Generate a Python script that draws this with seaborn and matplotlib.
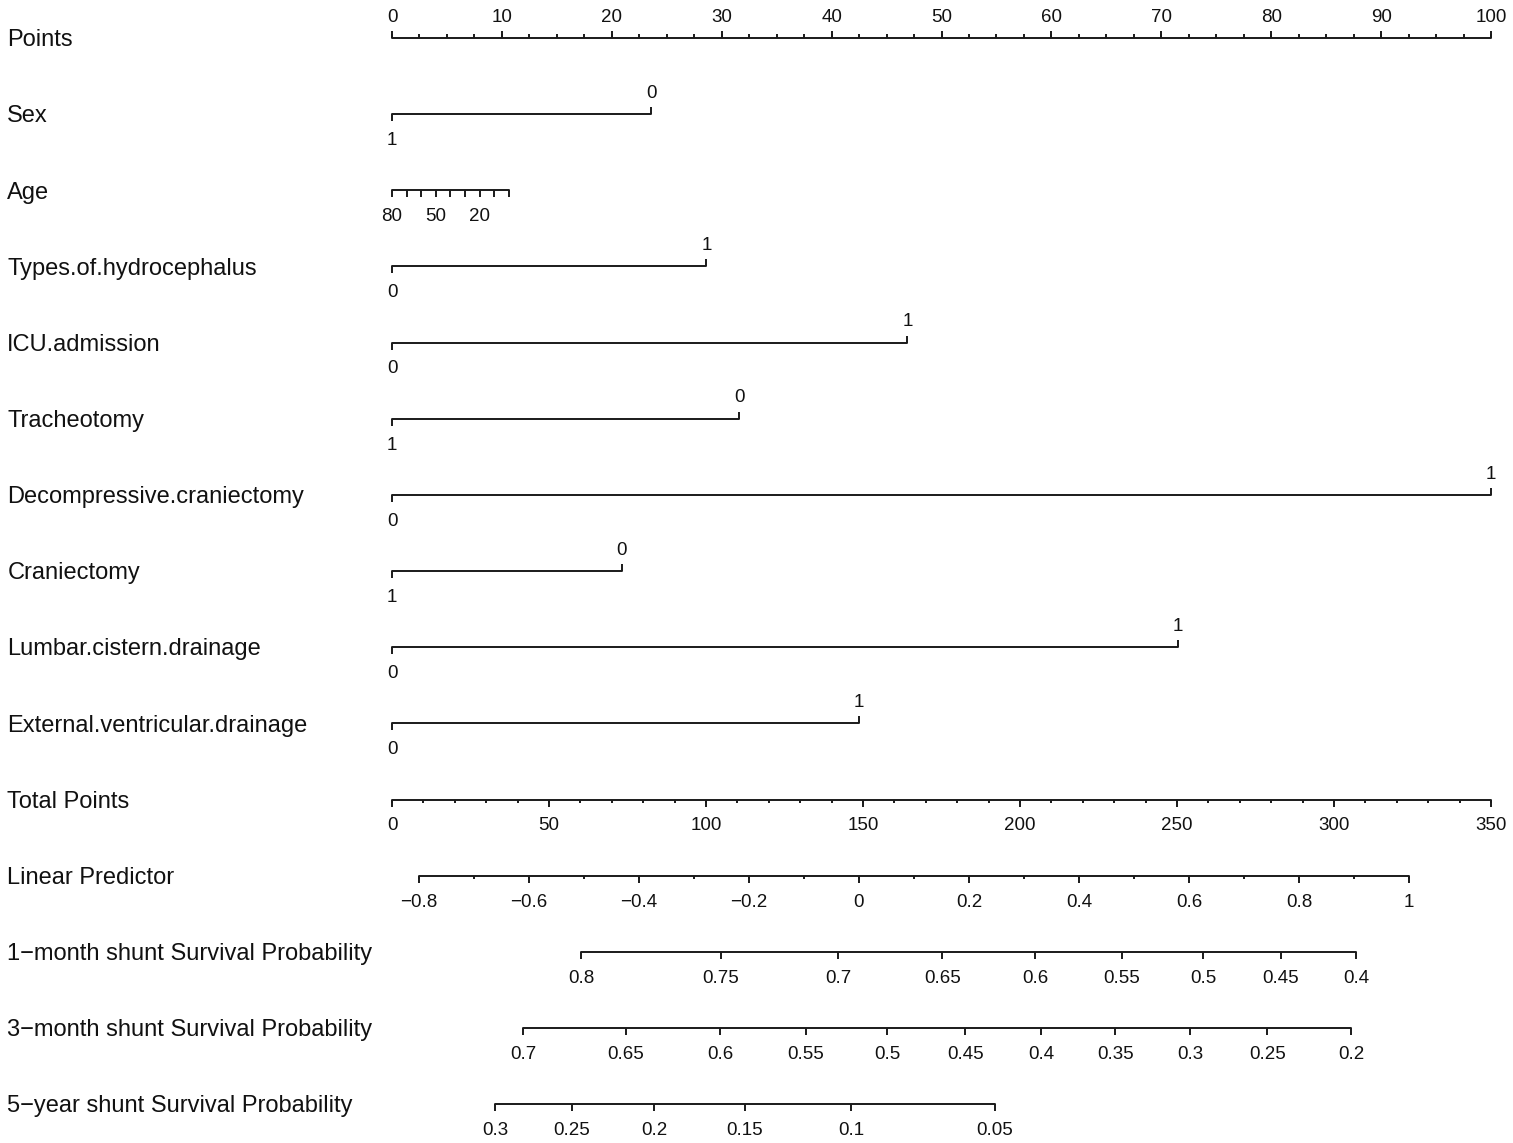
import numpy as np
import pandas as pd
import seaborn as sns
import matplotlib.pyplot as plt

# nomogram rows, top to bottom
row_names = ['Points', 'Sex', 'Age', 'Types.of.hydrocephalus', 'ICU.admission',
             'Tracheotomy', 'Decompressive.craniectomy', 'Craniectomy',
             'Lumbar.cistern.drainage', 'External.ventricular.drainage',
             'Total Points', 'Linear Predictor',
             '1\u2212month shunt Survival Probability',
             '3\u2212month shunt Survival Probability',
             '5\u2212year shunt Survival Probability']

# binary predictors -> points given to level 0 and level 1
binary_vars = ['Sex', 'Types.of.hydrocephalus', 'ICU.admission', 'Tracheotomy',
               'Decompressive.craniectomy', 'Craniectomy',
               'Lumbar.cistern.drainage', 'External.ventricular.drainage']
pts_level0 = [23.6, 0, 0, 31.6, 0, 20.9, 0, 0]
pts_level1 = [0, 28.6, 46.9, 0, 100, 0, 71.5, 42.5]

# age -> points
age_values = [80, 70, 60, 50, 40, 30, 20, 10, 0]
age_points = [0.0, 1.34, 2.67, 3.97, 5.30, 6.64, 7.98, 9.31, 10.65]
age_shown = [80, 50, 20]

# points / total points scales
points_major = [0, 10, 20, 30, 40, 50, 60, 70, 80, 90, 100]
total_major = [0, 50, 100, 150, 200, 250, 300, 350]
total_max = 350

# linear predictor: ticks and where 0 sits on the total points scale
lp_major = [-0.8, -0.6, -0.4, -0.2, 0, 0.2, 0.4, 0.6, 0.8, 1]
lp_zero_total = 148.7
lp_total_per_unit = 175.2

# survival probability scales: labels and position on total points
surv1_labels = ['0.8', '0.75', '0.7', '0.65', '0.6', '0.55', '0.5', '0.45', '0.4']
surv1_total = [60.2, 104.8, 142.0, 175.2, 204.8, 232.5, 258.3, 283.1, 307.0]
surv3_labels = ['0.7', '0.65', '0.6', '0.55', '0.5', '0.45', '0.4', '0.35', '0.3', '0.25', '0.2']
surv3_total = [41.7, 74.5, 104.5, 131.8, 157.6, 182.5, 206.7, 230.3, 254.1, 278.7, 305.4]
surv60_labels = ['0.3', '0.25', '0.2', '0.15', '0.1', '0.05']
surv60_total = [32.8, 57.3, 83.4, 112.4, 146.2, 192.0]

sns.set_theme(style='white')
plt.rcParams['font.family'] = ['Liberation Sans', 'DejaVu Sans']

ink = '#1a1a1a'
lw = 1.4
tick_len = 0.092
minor_len = 0.046
off_above = 0.214   # baseline of labels above a line
off_below = 0.405   # baseline of labels below a line

fig = plt.figure(figsize=(15.13, 11.43), dpi=100)
ax = fig.add_axes([0, 0, 1, 1])


def tot2pts(v):
    return np.asarray(v, dtype=float) * 100.0 / total_max


def fmt(v):
    s = ('%g' % v)
    return s.replace('-', '\u2212')


segments = []
ticks = []   # (x, row, direction, length)
texts = []   # (x, row, label, direction)


def scale(row, pos, labels, up=False, minor=None, show=None):
    pos = np.asarray(pos, dtype=float)
    segments.append((pos.min(), pos.max(), row))
    d = -1 if up else 1
    for p, l in zip(pos, labels):
        ticks.append((p, row, d, tick_len))
        if show is None or l in show:
            texts.append((p, row, l, d))
    if minor is not None:
        for p in minor:
            ticks.append((p, row, d, minor_len))


# Points
scale(0, points_major, [str(v) for v in points_major], up=True,
      minor=np.arange(0, 100.01, 2.5))

# binary predictors
for name, p0, p1 in zip(binary_vars, pts_level0, pts_level1):
    r = row_names.index(name)
    segments.append((min(p0, p1), max(p0, p1), r))
    for p, lvl in ((p0, '0'), (p1, '1')):
        d = -1 if p == max(p0, p1) else 1
        ticks.append((p, r, d, tick_len))
        texts.append((p, r, lvl, d))

# Age
scale(2, age_points, age_values, show=age_shown)

# Total points
scale(10, tot2pts(total_major), [str(v) for v in total_major],
      minor=tot2pts(np.arange(0, total_max + 0.1, 10)))

# Linear predictor
lp_pos = tot2pts(lp_zero_total + lp_total_per_unit * np.array(lp_major))
lp_minor = tot2pts(lp_zero_total + lp_total_per_unit * np.arange(-0.8, 1.01, 0.1))
scale(11, lp_pos, [fmt(v) for v in lp_major], minor=lp_minor)

# survival probabilities
scale(12, tot2pts(surv1_total), surv1_labels)
scale(13, tot2pts(surv3_total), surv3_labels)
scale(14, tot2pts(surv60_total), surv60_labels)

# axis lines through seaborn
seg_df = pd.DataFrame(
    [(x, r, i) for i, (a, b, r) in enumerate(segments) for x in (a, b)],
    columns=['x', 'row', 'seg'])
sns.lineplot(data=seg_df, x='x', y='row', units='seg', estimator=None,
             sort=False, color=ink, lw=lw, ax=ax, legend=False)

for x, r, d, ln in ticks:
    ax.plot([x, x], [r, r + d * ln], color=ink, lw=lw, solid_capstyle='butt')

for x, r, l, d in texts:
    y = r - off_above if d < 0 else r + off_below
    ax.text(x, y, str(l), ha='center', va='baseline',
            fontsize=13.5, color='#111111')

for i, name in enumerate(row_names):
    ax.text(-35.0, i + 0.108, name, ha='left', va='baseline',
            fontsize=17, color='#111111')

ax.set_xlim(-35.67, 102.0)
ax.set_ylim(14.51, -0.499)
ax.axis('off')

fig.savefig('out.png', dpi=100, facecolor='white')
